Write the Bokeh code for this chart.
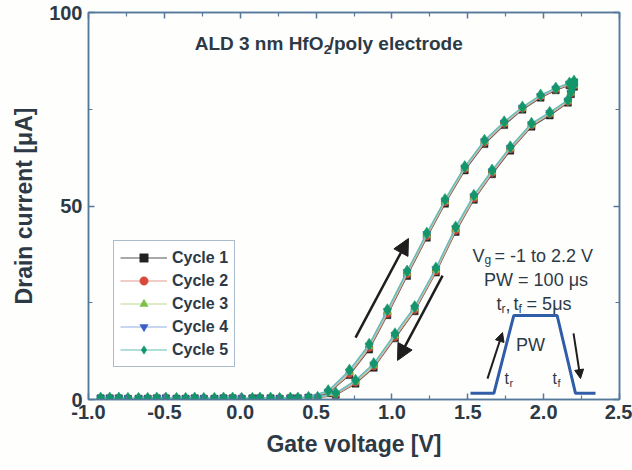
from bokeh.plotting import figure
from bokeh.models import (LinearAxis, FixedTicker, PrintfTickFormatter, Label,
                          Arrow, NormalHead, Legend, LegendItem, ColumnDataSource)
from bokeh.embed import file_html
from bokeh.resources import INLINE

# ---- sweep voltages (forward then reverse) ----
v_up = [-0.92, -0.80, -0.67, -0.55, -0.42, -0.30, -0.17, -0.05, 0.08, 0.20, 0.33, 0.45,
        0.58, 0.72, 0.85, 0.97, 1.10, 1.23, 1.35, 1.48, 1.61, 1.74, 1.86, 1.98, 2.08, 2.17, 2.20]
v_down = [2.20, 2.18, 2.16, 2.04, 1.92, 1.78, 1.66, 1.54, 1.42, 1.29, 1.15, 1.02, 0.88, 0.76,
          0.63, 0.51, 0.38, 0.26, 0.13, 0.01, -0.11, -0.24, -0.36, -0.49, -0.61, -0.74, -0.86]

# ---- drain current [uA] per cycle ----
c1_up = [0.3, 0.3, 0.2, 0.3, 0.2, 0.3, 0.2, 0.3, 0.3, 0.3, 0.3, 0.5,
         1.6, 6.3, 12.9, 21.8, 31.9, 41.8, 50.6, 59.2, 66.0, 70.9, 74.9, 78.0, 79.9, 81.2, 81.9]
c1_down = [80.8, 78.9, 76.7, 73.4, 70.5, 64.3, 58.2, 51.6, 43.3, 32.8, 22.8, 15.8, 8.2, 4.1,
           1.2, 0.4, 0.3, 0.2, 0.3, 0.2, 0.3, 0.2, 0.2, 0.3, 0.2, 0.2, 0.3]
c2_up = [0.3, 0.4, 0.3, 0.3, 0.3, 0.3, 0.3, 0.4, 0.3, 0.3, 0.4, 0.5,
         1.8, 6.6, 13.3, 22.1, 32.3, 42.1, 50.9, 59.5, 66.3, 71.2, 75.1, 78.2, 80.1, 81.4, 82.0]
c2_down = [81.0, 79.1, 76.9, 73.7, 70.8, 64.6, 58.5, 51.9, 43.6, 33.1, 23.1, 16.1, 8.5, 4.3,
           1.3, 0.5, 0.3, 0.3, 0.3, 0.3, 0.3, 0.3, 0.3, 0.3, 0.3, 0.3, 0.3]
c3_up = [0.4, 0.3, 0.3, 0.4, 0.3, 0.3, 0.3, 0.3, 0.4, 0.3, 0.3, 0.5,
         2.0, 7.0, 13.7, 22.6, 32.7, 42.5, 51.2, 59.8, 66.6, 71.4, 75.3, 78.4, 80.3, 81.6, 82.1]
c3_down = [81.1, 79.3, 77.1, 73.9, 71.0, 64.9, 58.8, 52.3, 44.0, 33.5, 23.5, 16.5, 8.8, 4.6,
           1.5, 0.5, 0.4, 0.3, 0.3, 0.3, 0.4, 0.3, 0.3, 0.3, 0.3, 0.3, 0.3]
c4_up = [0.4, 0.4, 0.3, 0.4, 0.3, 0.4, 0.3, 0.4, 0.3, 0.4, 0.4, 0.6,
         2.1, 7.3, 14.0, 22.9, 33.0, 42.8, 51.5, 60.0, 66.8, 71.6, 75.5, 78.5, 80.4, 81.7, 82.2]
c4_down = [81.2, 79.4, 77.3, 74.1, 71.2, 65.1, 59.0, 52.6, 44.3, 33.8, 23.8, 16.8, 9.1, 4.8,
           1.6, 0.6, 0.4, 0.3, 0.4, 0.3, 0.4, 0.3, 0.3, 0.4, 0.3, 0.3, 0.4]
c5_up = [0.4, 0.4, 0.3, 0.4, 0.3, 0.4, 0.3, 0.4, 0.3, 0.4, 0.4, 0.6,
         2.3, 7.6, 14.3, 23.2, 33.2, 43.0, 51.7, 60.2, 67.0, 71.8, 75.6, 78.7, 80.5, 81.8, 82.3]
c5_down = [81.3, 79.5, 77.4, 74.2, 71.4, 65.3, 59.3, 52.8, 44.6, 34.0, 24.0, 17.0, 9.3, 5.0,
           1.7, 0.6, 0.4, 0.3, 0.4, 0.3, 0.4, 0.3, 0.3, 0.4, 0.3, 0.3, 0.4]

cycle_names = ["Cycle 1", "Cycle 2", "Cycle 3", "Cycle 4", "Cycle 5"]
cycle_up = [c1_up, c2_up, c3_up, c4_up, c5_up]
cycle_down = [c1_down, c2_down, c3_down, c4_down, c5_down]
markers = ["square", "circle", "triangle", "inverted_triangle", "diamond"]
marker_sizes = [7, 7, 8, 8, 12]
marker_colors = ["#222222", "#d9483b", "#7cc04a", "#3a5fc8", "#13976a"]
line_colors = ["#555555", "#e69a90", "#b9dc8a", "#8fb0e6", "#63bdb6"]

# pulse schematic (drawn in data space inside the plot)
pulse_x = [1.518, 1.672, 1.803, 2.089, 2.210, 2.342]
pulse_y = [1.6, 1.6, 21.7, 21.7, 1.6, 1.6]

x_ticks = [-1.0, -0.5, 0.0, 0.5, 1.0, 1.5, 2.0, 2.5]
x_minor = [-0.75, -0.25, 0.25, 0.75, 1.25, 1.75, 2.25]
y_ticks = [0, 50, 100]
y_minor = [25, 75]

FONT = "Liberation Sans"
TXT = "#2d3a46"
AX = "#55799a"

p = figure(width=632, height=470, frame_width=531, frame_height=387,
           x_range=(-1.0, 2.5), y_range=(0, 100),
           output_backend="svg", toolbar_location=None,
           min_border_left=88, min_border_right=13, min_border_top=12, min_border_bottom=71,
           background_fill_color="#fefefd", border_fill_color="#fefefd")
p.xgrid.visible = False
p.ygrid.visible = False
p.outline_line_color = AX
p.outline_line_width = 1.5


def style_axis(ax):
    ax.axis_line_color = AX
    ax.axis_line_width = 1.5
    ax.major_tick_line_color = AX
    ax.minor_tick_line_color = AX
    ax.major_tick_line_width = 1.5
    ax.minor_tick_line_width = 1.2
    ax.major_tick_in = 6
    ax.major_tick_out = 0
    ax.minor_tick_in = 4
    ax.minor_tick_out = 0
    ax.major_label_text_font = FONT
    ax.major_label_text_font_style = "bold"
    ax.major_label_text_color = TXT
    ax.major_label_text_font_size = "20px"
    ax.axis_label_text_font = FONT
    ax.axis_label_text_font_style = "bold"
    ax.axis_label_text_color = TXT
    ax.axis_label_text_font_size = "23px"


p.xaxis.ticker = FixedTicker(ticks=x_ticks, minor_ticks=x_minor)
p.xaxis.formatter = PrintfTickFormatter(format="%.1f")
p.yaxis.ticker = FixedTicker(ticks=y_ticks, minor_ticks=y_minor)
p.xaxis.axis_label = "Gate voltage [V]"
p.yaxis.axis_label = "Drain current [\u03bcA]"
for ax in p.xaxis + p.yaxis:
    style_axis(ax)
p.xaxis.major_label_standoff = 5
p.yaxis.major_label_standoff = 6
p.xaxis.axis_label_standoff = 9
p.yaxis.axis_label_standoff = 9

# mirrored tick marks on the top and right edges, without labels
top_ax = LinearAxis(ticker=FixedTicker(ticks=x_ticks, minor_ticks=x_minor))
right_ax = LinearAxis(ticker=FixedTicker(ticks=y_ticks, minor_ticks=y_minor))
for ax in (top_ax, right_ax):
    style_axis(ax)
    ax.major_label_text_font_size = "1px"
    ax.major_label_standoff = 0
    ax.major_label_overrides = {t: "" for t in x_ticks + y_ticks}
p.add_layout(top_ax, "above")
p.add_layout(right_ax, "right")

# ---- measured hysteresis loops ----
items = []
for name, up, down, mk, ms, mc, lc in zip(cycle_names, cycle_up, cycle_down, markers,
                                          marker_sizes, marker_colors, line_colors):
    src = ColumnDataSource(dict(v=v_up + v_down, i=up + down))
    lr = p.line("v", "i", source=src, line_color=lc, line_width=1.2)
    sr = p.scatter("v", "i", source=src, marker=mk, size=ms, fill_color=mc,
                   line_color=mc, line_width=0.5)
    items.append(LegendItem(label=name, renderers=[lr, sr]))

legend = Legend(items=items, location=(25, 32), orientation="vertical",
                label_text_font=FONT, label_text_font_style="bold",
                label_text_font_size="16px", label_text_color=TXT,
                glyph_width=47, glyph_height=21, label_height=21, label_standoff=5,
                spacing=2, padding=6, margin=0,
                border_line_color=AX, border_line_width=1.5,
                background_fill_color="white", background_fill_alpha=1.0)
p.add_layout(legend, "center")

# ---- sweep direction arrows ----
p.add_layout(Arrow(end=NormalHead(size=16, fill_color="#1e1e1e", line_color="#1e1e1e"),
                   x_start=0.760, y_start=16.0, x_end=1.109, y_end=41.6,
                   line_color="#1e1e1e", line_width=2.5))
p.add_layout(Arrow(end=NormalHead(size=16, fill_color="#1e1e1e", line_color="#1e1e1e"),
                   x_start=1.334, y_start=32.0, x_end=1.037, y_end=10.1,
                   line_color="#1e1e1e", line_width=2.5))

# ---- pulse schematic ----
p.line(pulse_x, pulse_y, line_color="#2f5da8", line_width=3)
p.add_layout(Arrow(end=NormalHead(size=9, fill_color="#1e1e1e", line_color="#1e1e1e"),
                   x_start=1.630, y_start=5.4, x_end=1.729, y_end=17.3,
                   line_color="#1e1e1e", line_width=2))
p.add_layout(Arrow(end=NormalHead(size=9, fill_color="#1e1e1e", line_color="#1e1e1e"),
                   x_start=2.197, y_start=17.1, x_end=2.243, y_end=5.4,
                   line_color="#1e1e1e", line_width=2))


def label(x, y, text, size, bold=False, dx=0, align="left", color=TXT):
    p.add_layout(Label(x=x, y=y, x_offset=dx, text=text, text_font=FONT,
                       text_font_size=size, text_font_style="bold" if bold else "normal",
                       text_color=color, text_align=align, text_baseline="alphabetic"))


# title inside the frame: ALD 3 nm HfO2/poly electrode
label(-0.30, 92.0, "ALD 3 nm HfO", "19px", bold=True)
label(-0.30, 90.4, "2", "13px", bold=True, dx=129)
label(-0.30, 92.0, "/poly electrode", "19px", bold=True, dx=134)

# pulse conditions
label(1.531, 37.2, "V", "18px")
label(1.531, 36.0, "g", "12px", dx=12)
label(1.531, 37.2, "= -1 to 2.2 V", "18px", dx=22)
label(1.950, 30.75, "PW = 100 \u03bcs", "18px", align="center")
label(1.690, 24.55, "t", "18px")
label(1.690, 23.4, "r", "12px", dx=5)
label(1.690, 24.55, ",", "18px", dx=9)
label(1.690, 24.55, "t", "18px", dx=17)
label(1.690, 23.4, "f", "12px", dx=22)
label(1.690, 24.55, "= 5\u03bcs", "18px", dx=30)

# labels inside the pulse
label(1.913, 14.2, "PW", "18px", align="center")
label(1.742, 5.4, "t", "16px")
label(1.742, 4.2, "r", "11px", dx=5)
label(2.058, 5.4, "t", "16px")
label(2.058, 4.2, "f", "11px", dx=5)

open("out.html", "w").write(file_html(p, INLINE))
